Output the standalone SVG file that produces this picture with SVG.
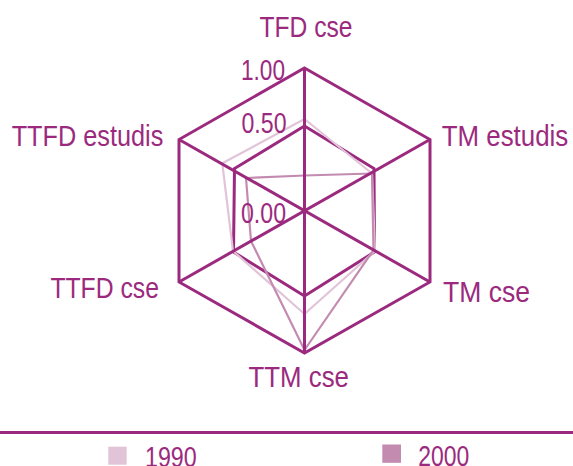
<svg xmlns="http://www.w3.org/2000/svg" width="573" height="466" viewBox="0 0 573 466">
<style>
.grid{fill:none;stroke:#9b2a7e;stroke-width:3;stroke-linejoin:miter}
.spoke{stroke:#9b2a7e;stroke-width:3}
.s1990{fill:none;stroke:#e2c4d8;stroke-width:2.2;stroke-linejoin:round}
.s2000{fill:none;stroke:#c48bb0;stroke-width:2.2;stroke-linejoin:round}
text{font-family:"Liberation Sans Narrow","Liberation Sans",Arial,sans-serif;font-size:29px;fill:#9b2a7e}
</style>
<rect width="573" height="466" fill="#ffffff"/>
<g id="grid">
<polygon class="grid" points="304.5,68 430,139.5 430,282 304.5,353 179,282 179,139.5"/>
<polygon class="grid" points="304.5,126 374,168.5 374.5,252 304.5,296 233.5,252 234.5,168.5"/>
</g>
<g id="series">
<polygon id="s1990" class="s1990" points="304.5,119 372,173.5 375,251 304.5,314 233,251 222.3,163.3"/>
<polygon id="s2000" class="s2000" points="304.5,175.5 372,173.5 373.5,250 304.5,350 251,241 246,178"/>
</g>
<g id="connectors">
<line class="spoke" x1="304.5" y1="68" x2="304.5" y2="353"/>
<line class="spoke" x1="179" y1="139.5" x2="430" y2="282"/>
<line class="spoke" x1="430" y1="139.5" x2="179" y2="282"/>
</g>
<g id="axis-labels">
<text x="241" y="80" textLength="44" lengthAdjust="spacingAndGlyphs">1.00</text>
<text x="241.5" y="133.3" textLength="45" lengthAdjust="spacingAndGlyphs">0.50</text>
<text x="241" y="223.3" textLength="45" lengthAdjust="spacingAndGlyphs">0.00</text>
</g>
<g id="node-tfd-cse"><text x="259.5" y="37.3" textLength="93" lengthAdjust="spacingAndGlyphs">TFD cse</text></g>
<g id="node-tm-estudis"><text x="441.7" y="146" textLength="126.6" lengthAdjust="spacingAndGlyphs">TM estudis</text></g>
<g id="node-tm-cse"><text x="443" y="301.7" textLength="87" lengthAdjust="spacingAndGlyphs">TM cse</text></g>
<g id="node-ttm-cse"><text x="248.5" y="387.3" textLength="100.5" lengthAdjust="spacingAndGlyphs">TTM cse</text></g>
<g id="node-ttfd-cse"><text x="50.4" y="298.3" textLength="108.6" lengthAdjust="spacingAndGlyphs">TTFD cse</text></g>
<g id="node-ttfd-estudis"><text x="11.7" y="146" textLength="151.6" lengthAdjust="spacingAndGlyphs">TTFD estudis</text></g>
<g id="legend">
<line x1="0" y1="432.5" x2="573" y2="432.5" stroke="#9b2a7e" stroke-width="3"/>
<rect x="108.3" y="446.7" width="18.4" height="18" fill="#e2c4d8"/>
<text x="145" y="466.5" textLength="51.7" lengthAdjust="spacingAndGlyphs">1990</text>
<rect x="382.3" y="444.5" width="18.7" height="18.3" fill="#c48bb0"/>
<text x="418.3" y="466" textLength="51" lengthAdjust="spacingAndGlyphs">2000</text>
</g>
</svg>
